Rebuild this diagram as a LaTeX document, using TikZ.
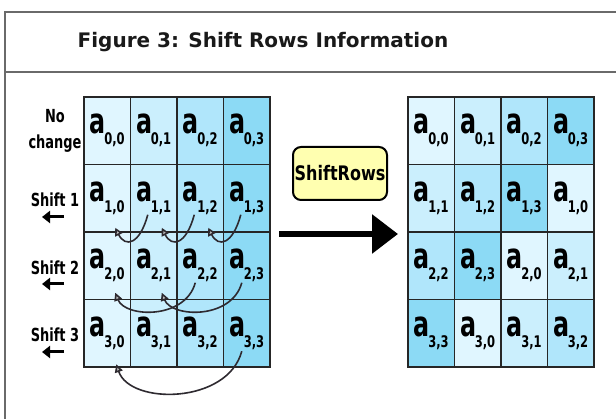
\documentclass[tikz,border=0pt]{standalone}
\usepackage{fontspec}
\usepackage{graphicx}
\setmainfont{DejaVu Sans}
\usetikzlibrary{arrows.meta,calc}

\definecolor{c0}{HTML}{E0F6FF}
\definecolor{c1}{HTML}{CBEFFD}
\definecolor{c2}{HTML}{B0E6FB}
\definecolor{c3}{HTML}{8CDAF5}
\definecolor{framegray}{HTML}{6A6A6A}
\definecolor{boxyellow}{HTML}{FFFFB0}
\definecolor{curvecol}{HTML}{2E2A30}

% matrix entry a_{i,j}: tall narrow letter with a lowered index
\newcommand{\entry}[2]{%
  \scalebox{0.68}[1]{\fontsize{35}{35}\selectfont\bfseries a}\kern-1.5pt%
  \raisebox{-11pt}{\scalebox{0.72}[1]{\fontsize{16}{16}\selectfont\bfseries #1,#2}}}
\newcommand{\narrow}[2]{\scalebox{#1}[1]{#2}}

\begin{document}
\begin{tikzpicture}[x=1pt,y=-1pt,
  cell/.style={draw=black!85, line width=1.3pt, minimum width=46.5pt,
    minimum height=67.5pt, inner sep=0pt, outer sep=0pt},
  sidelabel/.style={font=\bfseries\fontsize{18}{26}\selectfont, align=center, inner sep=0pt},
  shiftarrow/.style={line width=3pt, -{Triangle[length=8pt,width=12pt]}},
  movecurve/.style={draw=curvecol, line width=1.6pt,
    -{Triangle[length=8pt,width=8pt,fill=gray!55]}},
  opbox/.style={draw=black, line width=2pt, fill=boxyellow, rounded corners=8pt,
    minimum width=94pt, minimum height=53pt, inner sep=0pt,
    font=\bfseries\fontsize{20}{20}\selectfont},
  bigarrow/.style={line width=6pt, -{Triangle[length=26pt,width=38pt]}}
]
\useasboundingbox (0,0) rectangle (616,419);
\fill[white] (0,0) rectangle (616,419);

% outer frame and title row
\draw[framegray, line width=1.5pt] (616,12) -- (5,12) -- (5,419);
\draw[framegray, line width=1.5pt] (5,72) -- (616,72);
\node[font=\bfseries\fontsize{20}{20}\selectfont, text=black!90] (title) at (263,42)
  {Figure 3: Shift Rows Information};

% state before the shift
\foreach \i in {0,...,3}{
  \foreach \j in {0,...,3}{
    \node[cell, fill=c\j] (L-\i-\j) at ({107.25+46.5*\j},{130.75+67.5*\i}) {\entry{\i}{\j}};
  }
}

% state after the shift
\foreach \i in {0,...,3}{
  \foreach \j in {0,...,3}{
    \pgfmathtruncatemacro{\k}{mod(\i+\j,4)}
    \node[cell, fill=c\k] (R-\i-\j) at ({431.25+46.5*\j},{130.75+67.5*\i}) {\entry{\i}{\k}};
  }
}

% row labels
\node[sidelabel] (nc) at (55,131) {\narrow{0.72}{No}\\\narrow{0.72}{change}};
\node[sidelabel] (s1) at (55,200) {\narrow{0.72}{Shift 1}};
\node[sidelabel] (s2) at (55,267.5) {\narrow{0.72}{Shift 2}};
\node[sidelabel] (s3) at (55,335) {\narrow{0.72}{Shift 3}};
\foreach \n/\y in {s1a/217, s2a/284, s3a/352}{
  \coordinate (\n-r) at (64,\y);
  \coordinate (\n-l) at (42,\y);
}
\draw[shiftarrow] (s1a-r) -- (s1a-l);
\draw[shiftarrow] (s2a-r) -- (s2a-l);
\draw[shiftarrow] (s3a-r) -- (s3a-l);

% movement of the bytes within each row
\foreach \j/\p in {1/0,2/1,3/2}{
  \draw[movecurve] ($(L-1-\j.center)+(-6,16.5)$) .. controls +(-8,30) and +(10,20) ..
    ($(L-1-\p.center)+(8,29.5)$);
}
\draw[movecurve] ($(L-2-2.center)+(-5,17)$) .. controls +(-10,37) and +(10,25) ..
  ($(L-2-0.center)+(8,27)$);
\draw[movecurve] ($(L-2-3.center)+(-5,17)$) .. controls +(-10,37) and +(10,25) ..
  ($(L-2-1.center)+(8,27)$);
\draw[movecurve] ($(L-3-3.center)+(-5,18)$) .. controls +(-14,53) and +(14,41) ..
  ($(L-3-0.center)+(9,31)$);

% operation box and transition arrow
\node[opbox] (sr) at (340,173.5) {\narrow{0.8}{ShiftRows}};
\coordinate (bs) at (279,234);
\draw[bigarrow, shorten >=10pt] (bs) -- (bs -| R-1-0.west);
\end{tikzpicture}
\end{document}
